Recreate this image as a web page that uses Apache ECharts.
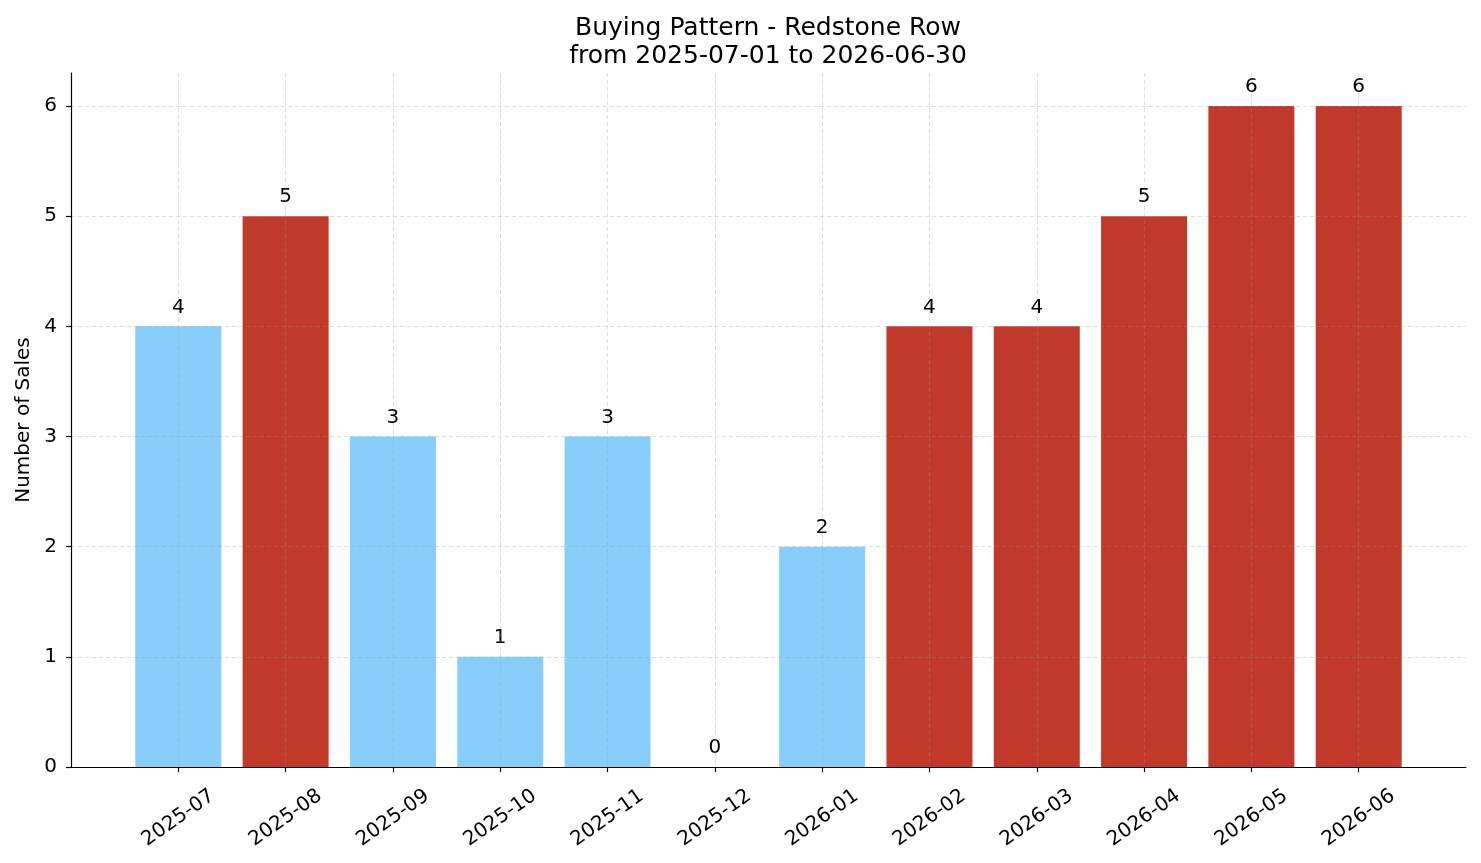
<!DOCTYPE html>
<html>
<head>
<meta charset="utf-8">
<title>Buying Pattern - Redstone Row</title>
<script src="https://cdn.jsdelivr.net/npm/echarts@6/dist/echarts.min.js"></script>
<style>
  html, body { margin: 0; padding: 0; background: #fff; }
  #chart { width: 1481px; height: 863px; }
</style>
</head>
<body>
<div id="chart"></div>
<script>
// monthly sales
const months = ['2025-07', '2025-08', '2025-09', '2025-10', '2025-11', '2025-12',
  '2026-01', '2026-02', '2026-03', '2026-04', '2026-05', '2026-06']
const sales = [4, 5, 3, 1, 3, 0, 2, 4, 4, 5, 6, 6]
// months drawn in red
const highlighted = [false, true, false, false, false, false, false, true, true, true, true, true]
const yTicks = [0, 1, 2, 3, 4, 5, 6]

const font = 'DejaVu Sans'
const blue = '#87CEFA'
const red = '#C0392B'
const gridColor = 'rgba(150,150,150,0.4)'

// pad one empty slot each side, like matplotlib's margins
const xCats = [''].concat(months, [' '])
const inner = (i) => i > 0 && i < xCats.length - 1

const barData = [null].concat(sales.map((v, i) => ({
  value: v,
  itemStyle: { color: highlighted[i] ? red : blue }
})), [null])

const chart = echarts.init(document.getElementById('chart'))

chart.setOption({
  animation: false,
  title: {
    text: 'Buying Pattern - Redstone Row\nfrom 2025-07-01 to 2026-06-30',
    left: 763,
    top: 9,
    textAlign: 'center',
    textStyle: {
      fontFamily: font,
      fontSize: 25,
      fontWeight: 'normal',
      color: '#000',
      lineHeight: 28
    }
  },
  grid: { left: 71, right: 15, top: 73, bottom: 96 },
  xAxis: {
    type: 'category',
    data: xCats,
    boundaryGap: false,
    z: 3,
    axisLine: { lineStyle: { color: '#000', width: 1.2 } },
    axisTick: { interval: inner, length: 5, lineStyle: { color: '#000', width: 1.2 } },
    axisLabel: {
      interval: inner,
      rotate: 35,
      align: 'center',
      verticalAlign: 'middle',
      margin: 51,
      fontFamily: font,
      fontSize: 20,
      color: '#000'
    },
    splitLine: {
      show: true,
      interval: inner,
      lineStyle: { color: gridColor, type: [4, 3], width: 0.8 }
    }
  },
  yAxis: {
    type: 'value',
    min: 0,
    max: 6.3,
    interval: 1,
    z: 3,
    name: 'Number of Sales',
    nameLocation: 'middle',
    nameRotate: 90,
    nameGap: 37,
    nameTextStyle: { fontFamily: font, fontSize: 20, color: '#000' },
    axisLine: { show: true, lineStyle: { color: '#000', width: 1.2 } },
    axisTick: { show: true, length: 5, customValues: yTicks, lineStyle: { color: '#000', width: 1.2 } },
    axisLabel: {
      customValues: yTicks,
      margin: 14,
      fontFamily: font,
      fontSize: 20,
      color: '#000'
    },
    splitLine: {
      show: true,
      lineStyle: { color: gridColor, type: [4, 3], width: 0.8 }
    }
  },
  series: [{
    name: 'Sales',
    type: 'bar',
    data: barData,
    barWidth: 86,
    label: {
      show: true,
      position: 'top',
      distance: 9,
      fontFamily: font,
      fontSize: 20,
      color: '#000'
    }
  }]
})
</script>
</body>
</html>
